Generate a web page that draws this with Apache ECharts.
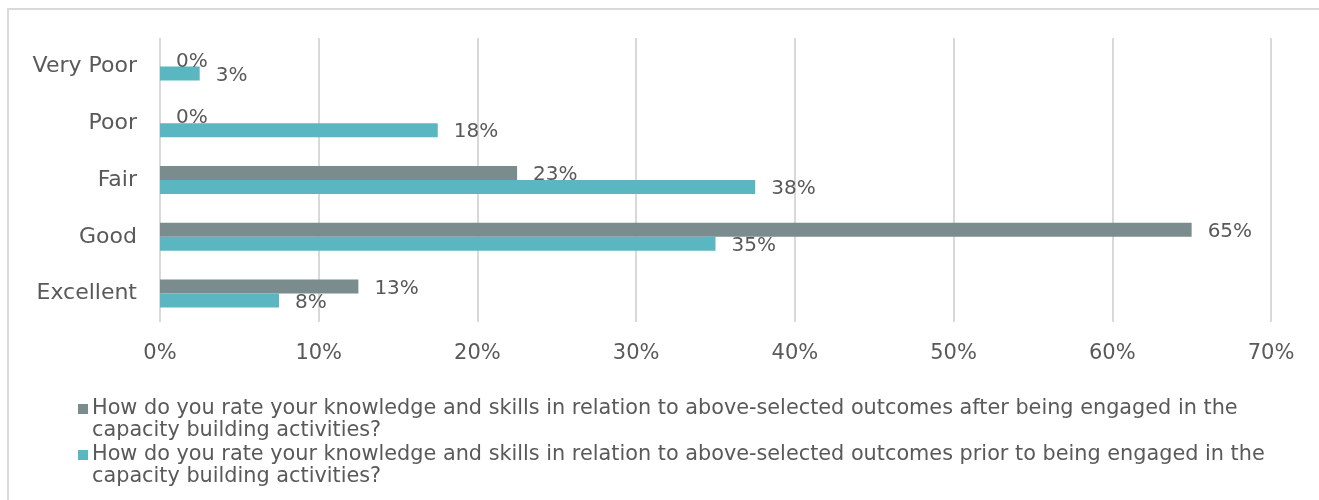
<!DOCTYPE html>
<html>
<head>
<meta charset="utf-8">
<script src="https://cdn.jsdelivr.net/npm/echarts@6/dist/echarts.min.js"></script>
<style>
html, body { margin: 0; padding: 0; background: #fff; }
#chart { width: 1319px; height: 500px; }
</style>
</head>
<body>
<div id="chart"></div>
<script>
// ratings, top to bottom
var categories = ['Very Poor', 'Poor', 'Fair', 'Good', 'Excellent']
var afterName = 'How do you rate your knowledge and skills in relation to above-selected outcomes after being engaged in the capacity building activities?'
var priorName = 'How do you rate your knowledge and skills in relation to above-selected outcomes prior to being engaged in the capacity building activities?'
var afterValues = [0, 0, 22.5, 65, 12.5]
var priorValues = [2.5, 17.5, 37.5, 35, 7.5]
var xTicks = [0, 10, 20, 30, 40, 50, 60, 70]
var wrapTail = 'capacity building activities?'

var font = 'DejaVu Sans'
var textColor = '#595959'

var labelOpt = {
  show: true,
  position: 'right',
  distance: 16,
  color: textColor,
  fontFamily: font,
  fontSize: 20,
  offset: [0, 2],
  formatter: function (p) { return Math.round(p.value) + '%' }
}

var chart = echarts.init(document.getElementById('chart'))
chart.setOption({
  animation: false,
  graphic: [{
    type: 'rect',
    shape: { x: 8, y: 9, width: 1330, height: 520 },
    style: { fill: 'none', stroke: '#d9d9d9', lineWidth: 2 },
    silent: true
  }, {
    // second line of each wrapped legend entry
    type: 'text', left: 92, top: 420,
    style: { text: wrapTail, fill: textColor, font: '20.8px "DejaVu Sans"' }
  }, {
    type: 'text', left: 92, top: 466,
    style: { text: wrapTail, fill: textColor, font: '20.8px "DejaVu Sans"' }
  }],
  grid: { left: 160, right: 48, top: 38, bottom: 178 },
  legend: {
    orient: 'vertical',
    left: 78,
    top: 398,
    padding: 0,
    itemWidth: 10,
    itemHeight: 10,
    itemGap: 24,
    icon: 'rect',
    data: [afterName, priorName],
    formatter: function (name) { return name.replace(' ' + wrapTail, '') },
    textStyle: { color: textColor, fontFamily: font, fontSize: 20.8, lineHeight: 22, padding: [0, 0, 0, -1] }
  },
  xAxis: {
    type: 'value',
    min: xTicks[0],
    max: xTicks[xTicks.length - 1],
    interval: 10,
    axisLine: { show: false },
    axisTick: { show: false },
    splitLine: { lineStyle: { color: '#d9d9d9', width: 2 } },
    axisLabel: { formatter: '{value}%', color: textColor, fontFamily: font, fontSize: 21, margin: 21 }
  },
  yAxis: {
    type: 'category',
    inverse: true,
    data: categories,
    axisLine: { show: false },
    axisTick: { show: false },
    axisLabel: { color: textColor, fontFamily: font, fontSize: 22, margin: 23 }
  },
  series: [{
    name: afterName,
    type: 'bar',
    data: afterValues,
    barWidth: 14,
    barGap: '0%',
    itemStyle: { color: '#7a8c8e' },
    label: labelOpt
  }, {
    name: priorName,
    type: 'bar',
    data: priorValues,
    barWidth: 14,
    barGap: '0%',
    itemStyle: { color: '#5ab6c1' },
    label: labelOpt
  }]
})
</script>
</body>
</html>
